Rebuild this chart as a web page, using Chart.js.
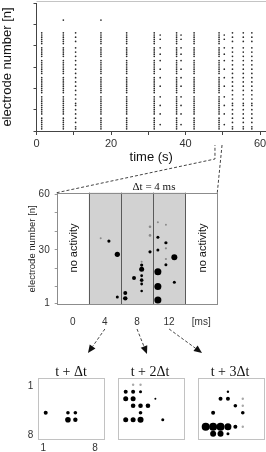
<!DOCTYPE html>
<html>
<head>
<meta charset="utf-8">
<script src="https://cdn.jsdelivr.net/npm/chart.js@4.4.1/dist/chart.umd.min.js"></script>
<style>
  html, body { margin: 0; padding: 0; background: #fff; }
  #wrap { position: relative; width: 266px; height: 452px; overflow: hidden; font-family: "Liberation Sans", Arial, sans-serif; }
  #wrap canvas { position: absolute; }
  .lbl { position: absolute; white-space: nowrap; color: #111; line-height: 1; transform: translate(-50%, -50%); }
  .serif { font-family: "Liberation Serif", "Times New Roman", serif; }
  .rot { transform: translate(-50%, -50%) rotate(-90deg); font-size: 11px; }
</style>
</head>
<body>
<div id="wrap">
  <canvas id="rasterChart" width="266" height="165" style="left:0;top:0"></canvas>
  <canvas id="windowChart" width="266" height="160" style="left:0;top:175px"></canvas>
  <canvas id="grid1" width="106" height="92" style="left:0;top:360px"></canvas>
  <canvas id="grid2" width="106" height="92" style="left:80px;top:360px"></canvas>
  <canvas id="grid3" width="106" height="92" style="left:160px;top:360px"></canvas>
  <canvas id="overlay" width="266" height="452" style="left:0;top:0"></canvas>
  <div class="lbl serif" style="left:154px;top:186px;font-size:11px">Δt = 4 ms</div>
  <div class="lbl rot" style="left:73px;top:248px">no activity</div>
  <div class="lbl rot" style="left:202px;top:248px">no activity</div>
  <div class="lbl serif" style="left:71px;top:372px;font-size:14px">t + Δt</div>
  <div class="lbl serif" style="left:150px;top:372px;font-size:14px">t + 2Δt</div>
  <div class="lbl serif" style="left:230px;top:372px;font-size:14px">t + 3Δt</div>
</div>
<script>
// ---- top raster: burst times (s) and which electrodes fire in each burst
const burstTimes = [1.4, 7.2, 10.5, 17.3, 24.2, 31.6, 33.2, 37.6, 38.8, 42.3, 49.0, 50.4, 52.6, 55.5, 57.8];
const burstKinds = ['full', 'full', 'medium', 'full', 'full', 'full', 'sparse', 'full', 'sparse', 'full', 'full', 'sparse', 'medium', 'medium', 'medium'];
const fullElectrodes = [1, 2, 3, 4, 5, 6, 8, 9, 10, 11, 12, 13, 14, 15, 16, 18, 19, 20, 21, 22, 23, 24, 25, 27, 28, 29, 30, 31, 32, 33, 35, 36, 37, 38, 39, 41, 42, 43, 44, 45, 46];
const mediumElectrodes = [1, 2, 4, 6, 8, 10, 12, 13, 15, 17, 19, 21, 23, 25, 27, 29, 31, 33, 35, 37, 39, 42, 44, 46];
const sparseElectrodes = [3, 8, 12, 16, 21, 25, 29, 33, 36, 39, 43, 45];
const strayTimes = [7.2, 17.3];
const strayElectrodes = [52, 52];
const timeTickLabels = [0, 20, 40, 60];
const zoomWindow = [47.9, 49.8];

// ---- middle: 4 ms bins around one burst
const windowTicks = [0, 4, 8, 12, 16];
const windowTickLabels = ['0', '4', '8', '12', '[ms]'];
const windowYTicks = [1, 10, 20, 30, 40, 50, 60];
const windowYLabels = [1, 30, 60];
const shadedSpan = [2, 14];
const binEdges = [6, 10];
const spikeTimes = [4.5, 5.55, 5.55, 6.54, 6.54, 7.63, 8.58, 8.58, 8.58, 8.58, 8.58, 8.58, 9.62, 10.6, 10.6, 10.6, 10.6, 10.6, 11.6, 11.6, 12.65, 12.65];
const spikeElectrodes = [34.7, 27.5, 4.3, 6.5, 3.6, 14.6, 21.7, 19.4, 15.9, 13.5, 11.4, 7.6, 28.9, 36.8, 29.9, 18.1, 10.1, 2.7, 33.8, 21.9, 25.9, 12.3];
const spikeSizes = [1.6, 2.6, 1.5, 2, 2.2, 2, 1.6, 2.5, 1.4, 1.8, 1.4, 1.3, 1.6, 1.5, 1.5, 3.5, 3.5, 3.5, 1.6, 1.5, 3, 1.5];
const faintTimes = [3.48, 8.58, 9.62, 9.62, 10.6, 11.6, 11.6, 11.6];
const faintElectrodes = [36.2, 23.5, 42.5, 37.8, 44.9, 43.6, 30.8, 25];
const faintSizes = [1, 1, 1.3, 1.3, 1, 1, 1.1, 1.1];

// ---- bottom: 8x8 electrode grids
const g1Cols = [1, 4, 5, 4, 5];
const g1Rows = [5, 5, 5, 6, 6];
const g1Sizes = [2, 1.8, 1.8, 2.8, 2.2];
const g2Cols = [1, 2, 3, 1, 2, 5, 2, 3, 4, 3, 1, 2, 3, 6];
const g2Rows = [2, 2, 2, 3, 3, 3, 4, 4, 4, 5, 6, 6, 6, 6];
const g2Sizes = [2, 2, 1.5, 2.5, 2.5, 1, 2.3, 2.3, 2.3, 1.8, 2.5, 2.5, 3, 1.5];
const g2FaintCols = [2, 3];
const g2FaintRows = [1, 1];
const g2FaintSizes = [1.2, 1.2];
const g3Cols = [4, 3, 4, 5, 2, 6, 1, 2, 3, 4, 5, 2, 3, 4];
const g3Rows = [2, 3, 3, 4, 5, 5, 7, 7, 7, 7, 7, 8, 8, 8];
const g3Sizes = [1.2, 2, 2, 1.8, 2, 1.8, 4, 4, 4, 3.5, 2, 3, 3, 1.5];
const g3FaintCols = [6, 6, 6];
const g3FaintRows = [3, 4, 7];
const g3FaintSizes = [1.2, 1.2, 1.2];
const gridTicks = [1, 8];

const sans = "'Liberation Sans', Arial, sans-serif";

function toBubbles(xs, ys, rs) {
    return xs.map((x, i) => ({ x: x, y: ys[i], r: rs[i] }));
}

// raster points: each burst time paired with its electrode list
const electrodeSets = { full: fullElectrodes, medium: mediumElectrodes, sparse: sparseElectrodes };
const rasterPoints = [];
burstTimes.forEach((t, i) => {
    electrodeSets[burstKinds[i]].forEach(e => rasterPoints.push({ x: t, y: e }));
});
strayTimes.forEach((t, i) => rasterPoints.push({ x: t, y: strayElectrodes[i] }));

// thin grey line along the top of the raster
const topLine = {
    id: 'topLine',
    afterDraw(chart) {
        const { ctx, chartArea: a } = chart;
        ctx.save();
        ctx.strokeStyle = '#c4c4c4';
        ctx.beginPath();
        ctx.moveTo(a.left, a.top - 1.5);
        ctx.lineTo(a.right, a.top - 1.5);
        ctx.stroke();
        ctx.restore();
    }
};

const rasterChart = new Chart(document.getElementById('rasterChart'), {
    type: 'scatter',
    data: {
        datasets: [{
            data: rasterPoints,
            pointRadius: 0.85,
            pointBorderWidth: 0,
            backgroundColor: '#2a2a2a'
        }]
    },
    options: {
        responsive: false,
        animation: false,
        events: [],
        layout: { autoPadding: false, padding: { top: 3, right: 0, left: 0, bottom: 0 } },
        plugins: { legend: { display: false }, tooltip: { enabled: false } },
        scales: {
            x: {
                type: 'linear', min: 0, max: 61.6,
                afterFit(s) { s.height = 34; s.paddingLeft = 0; s.paddingRight = 0; },
                grid: { display: true, drawOnChartArea: false, drawTicks: true, tickLength: 4, color: '#444' },
                border: { color: '#444' },
                ticks: {
                    stepSize: 10, includeBounds: false, padding: 2, color: '#333', font: { family: sans, size: 11 },
                    callback: v => timeTickLabels.includes(v) ? v : ''
                },
                title: { display: true, text: 'time (s)', color: '#111', font: { family: sans, size: 13 }, padding: 0 }
            },
            y: {
                min: 0, max: 60,
                afterFit(s) { s.width = 36.5; s.paddingTop = 0; s.paddingBottom = 0; },
                grid: { display: true, drawOnChartArea: false, drawTicks: true, tickLength: 3, color: '#444' },
                border: { color: '#444' },
                ticks: { stepSize: 10, padding: 0, callback: () => '' },
                title: { display: true, text: 'electrode number [n]', color: '#111', font: { family: sans, size: 13 }, padding: 0 }
            }
        }
    },
    plugins: [topLine]
});

// grey band, bin dividers and frame for the 4 ms window
const windowDecor = {
    id: 'windowDecor',
    beforeDatasetsDraw(chart) {
        const { ctx, chartArea: a, scales: { x } } = chart;
        ctx.save();
        const x0 = x.getPixelForValue(shadedSpan[0]);
        const x1 = x.getPixelForValue(shadedSpan[1]);
        ctx.fillStyle = '#d2d2d2';
        ctx.fillRect(x0, a.top, x1 - x0, a.bottom - a.top);
        ctx.strokeStyle = '#5a5a5a';
        ctx.lineWidth = 1;
        [shadedSpan[0], ...binEdges, shadedSpan[1]].forEach(v => {
            const px = Math.round(x.getPixelForValue(v)) + 0.5;
            ctx.beginPath();
            ctx.moveTo(px, a.top);
            ctx.lineTo(px, a.bottom);
            ctx.stroke();
        });
        ctx.strokeStyle = '#8c8c8c';
        ctx.strokeRect(Math.round(a.left) + 0.5, Math.round(a.top) + 0.5, Math.round(a.width) - 1, Math.round(a.height) - 1);
        ctx.restore();
    }
};

const windowChart = new Chart(document.getElementById('windowChart'), {
    type: 'bubble',
    data: {
        datasets: [
            { data: toBubbles(spikeTimes, spikeElectrodes, spikeSizes), backgroundColor: '#000', borderWidth: 0 },
            { data: toBubbles(faintTimes, faintElectrodes, faintSizes), backgroundColor: '#8a8a8a', borderWidth: 0 }
        ]
    },
    options: {
        responsive: false,
        animation: false,
        events: [],
        layout: { autoPadding: false, padding: { top: 17.7, right: 48.7, left: 27, bottom: 0 } },
        plugins: { legend: { display: false }, tooltip: { enabled: false } },
        scales: {
            x: {
                type: 'linear', min: -2, max: 18,
                afterFit(s) { s.height = 30; s.paddingLeft = 0; s.paddingRight = 0; },
                afterBuildTicks(s) { s.ticks = windowTicks.map(v => ({ value: v })); },
                grid: { display: false, drawTicks: false },
                border: { display: false },
                ticks: {
                    padding: 11, color: '#333', font: { family: sans, size: 10 },
                    callback: (v, i) => windowTickLabels[i]
                }
            },
            y: {
                min: 0, max: 61,
                afterFit(s) { s.width = 29.7; s.paddingTop = 0; s.paddingBottom = 0; },
                afterBuildTicks(s) { s.ticks = windowYTicks.map(v => ({ value: v })); },
                grid: { display: true, drawOnChartArea: false, drawTicks: true, tickLength: 2, color: '#999' },
                border: { display: false },
                ticks: {
                    padding: 5, color: '#333', font: { family: sans, size: 10 },
                    callback: v => windowYLabels.includes(v) ? v : ''
                },
                title: { display: true, text: 'electrode number [n]', color: '#222', font: { family: sans, size: 9.5 }, padding: 0 }
            }
        }
    },
    plugins: [windowDecor]
});

// light frame for the small grids
const gridFrame = {
    id: 'gridFrame',
    beforeDatasetsDraw(chart) {
        const { ctx, chartArea: a } = chart;
        ctx.save();
        ctx.strokeStyle = '#c2c2c2';
        ctx.lineWidth = 1;
        ctx.strokeRect(Math.round(a.left) + 0.5, Math.round(a.top) + 0.5, Math.round(a.width) - 1, Math.round(a.height) - 1);
        ctx.restore();
    }
};

function makeGrid(id, strong, faint, showTicks) {
    return new Chart(document.getElementById(id), {
        type: 'bubble',
        data: {
            datasets: [
                { data: strong, backgroundColor: '#000', borderWidth: 0 },
                { data: faint, backgroundColor: '#a8a8a8', borderWidth: 0 }
            ]
        },
        options: {
            responsive: false,
            animation: false,
            events: [],
            layout: { autoPadding: false, padding: { top: 17.7, right: 1, left: 0, bottom: 0 } },
            plugins: { legend: { display: false }, tooltip: { enabled: false } },
            scales: {
                x: {
                    type: 'linear', min: 0, max: 9,
                    afterFit(s) { s.height = 12.7; s.paddingLeft = 0; s.paddingRight = 0; },
                    afterBuildTicks(s) { s.ticks = gridTicks.map(v => ({ value: v })); },
                    grid: { display: false, drawTicks: false },
                    border: { display: false },
                    ticks: { display: showTicks, padding: 3, labelOffset: -2.5, color: '#333', font: { family: sans, size: 10 } }
                },
                y: {
                    reverse: true, min: 0, max: 8.8,
                    afterFit(s) { s.width = 38.3; s.paddingTop = 0; s.paddingBottom = 0; },
                    afterBuildTicks(s) { s.ticks = gridTicks.map(v => ({ value: v })); },
                    grid: { display: false, drawTicks: false },
                    border: { display: false },
                    ticks: { display: showTicks, padding: 5, labelOffset: 1.5, color: '#333', font: { family: sans, size: 10 } }
                }
            }
        },
        plugins: [gridFrame]
    });
}

makeGrid('grid1', toBubbles(g1Cols, g1Rows, g1Sizes), [], true);
makeGrid('grid2', toBubbles(g2Cols, g2Rows, g2Sizes), toBubbles(g2FaintCols, g2FaintRows, g2FaintSizes), false);
makeGrid('grid3', toBubbles(g3Cols, g3Rows, g3Sizes), toBubbles(g3FaintCols, g3FaintRows, g3FaintSizes), false);

// dashed connectors and arrows
const arrowFromTicks = [4, 8, 12];
const arrowTips = [[88, 353], [147, 354], [202, 353]];

function drawConnectors() {
    const ctx = document.getElementById('overlay').getContext('2d');
    const tx = rasterChart.scales.x;
    const wx = windowChart.scales.x;
    const area = windowChart.chartArea;
    const offTop = 175;
    const xl = tx.getPixelForValue(zoomWindow[0]);
    const xr = tx.getPixelForValue(zoomWindow[1]);

    ctx.strokeStyle = '#444';
    ctx.lineWidth = 1;
    ctx.setLineDash([3, 2]);
    ctx.beginPath();
    ctx.moveTo(area.left, area.top + offTop);
    ctx.lineTo(xl, 159);
    ctx.lineTo(xl, 145);
    ctx.stroke();
    ctx.beginPath();
    ctx.moveTo(xr, 145);
    ctx.lineTo(area.right, area.top + offTop);
    ctx.stroke();

    arrowFromTicks.forEach((v, i) => {
        const sx = wx.getPixelForValue(v);
        const sy = 329;
        const [ex, ey] = arrowTips[i];
        const ang = Math.atan2(ey - sy, ex - sx);
        const len = 8, half = 3.5;
        const bx = ex - len * Math.cos(ang), by = ey - len * Math.sin(ang);
        ctx.setLineDash([3, 2]);
        ctx.beginPath();
        ctx.moveTo(sx, sy);
        ctx.lineTo(bx, by);
        ctx.stroke();
        ctx.setLineDash([]);
        ctx.fillStyle = '#111';
        ctx.beginPath();
        ctx.moveTo(ex, ey);
        ctx.lineTo(bx + half * Math.sin(ang), by - half * Math.cos(ang));
        ctx.lineTo(bx - half * Math.sin(ang), by + half * Math.cos(ang));
        ctx.closePath();
        ctx.fill();
    });
}

drawConnectors();
</script>
</body>
</html>
